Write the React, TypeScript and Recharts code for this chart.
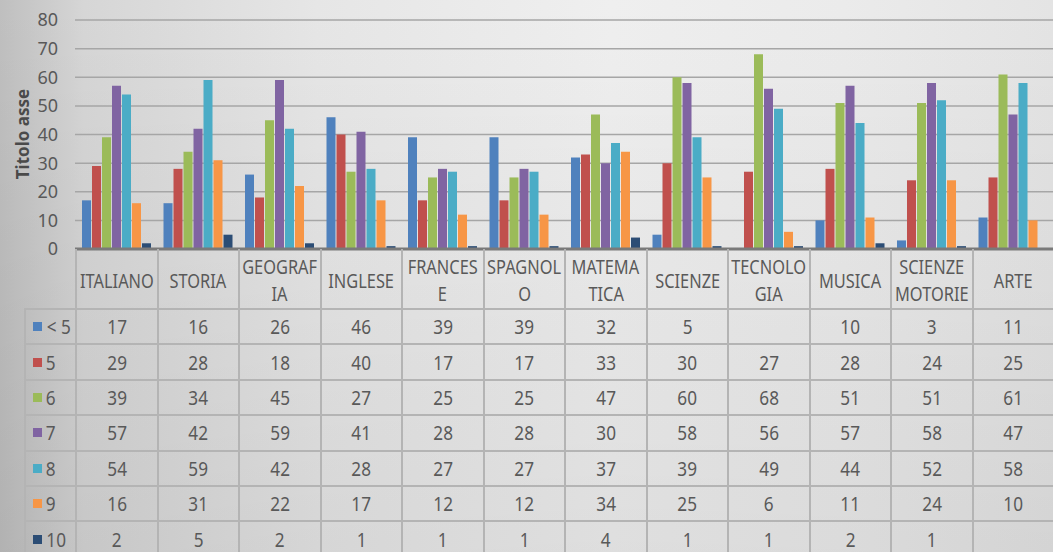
import { BarChart, Bar, XAxis, YAxis, CartesianGrid, ReferenceLine } from 'recharts'

const categories = ['ITALIANO', 'STORIA', 'GEOGRAFIA', 'INGLESE', 'FRANCESE', 'SPAGNOLO', 'MATEMATICA', 'SCIENZE', 'TECNOLOGIA', 'MUSICA', 'SCIENZE MOTORIE', 'ARTE']
// etichette come appaiono nella tabella (a capo come in Excel)
const headerLabels = ['ITALIANO', 'STORIA', 'GEOGRAF\nIA', 'INGLESE', 'FRANCES\nE', 'SPAGNOL\nO', 'MATEMA\nTICA', 'SCIENZE', 'TECNOLO\nGIA', 'MUSICA', 'SCIENZE\nMOTORIE', 'ARTE']

const seriesNames = ['< 5', '5', '6', '7', '8', '9', '10']
const votoLt5 = [17, 16, 26, 46, 39, 39, 32, 5, null, 10, 3, 11]
const voto5 = [29, 28, 18, 40, 17, 17, 33, 30, 27, 28, 24, 25]
const voto6 = [39, 34, 45, 27, 25, 25, 47, 60, 68, 51, 51, 61]
const voto7 = [57, 42, 59, 41, 28, 28, 30, 58, 56, 57, 58, 47]
const voto8 = [54, 59, 42, 28, 27, 27, 37, 39, 49, 44, 52, 58]
const voto9 = [16, 31, 22, 17, 12, 12, 34, 25, 6, 11, 24, 10]
const voto10 = [2, 5, 2, 1, 1, 1, 4, 1, 1, 2, 1, null]
const yTicks = [0, 10, 20, 30, 40, 50, 60, 70, 80]

const seriesValues = [votoLt5, voto5, voto6, voto7, voto8, voto9, voto10]
const COLORS = ['#4F81BD', '#C0504D', '#9BBB59', '#8064A2', '#4BACC6', '#F79646', '#2C4D75']

const W = 1053
const H = 552
const PLOT_LEFT = 75
const CAT_W = (W - PLOT_LEFT) / categories.length
const LEG_LEFT = 24
const HEAD_TOP = 249
const HEAD_H = 61
const ROW_H = 35.4
const LINE = '2px solid #b4b4b4'
const TEXT = '#595959'
const FONT = "'Noto Sans', sans-serif"

const data = categories.map((c, i) => {
  const row: Record<string, string | number | null> = { cat: c }
  seriesValues.forEach((s, k) => { row['s' + k] = s[i] })
  return row
})

// testo un po' stretto, come Calibri
const narrow = (t: string, sx = 0.84) => (
  <span style={{ display: 'inline-block', transform: `scaleX(${sx})`, whiteSpace: 'pre' }}>{t}</span>
)

export default function App() {
  return (
    <div
      style={{
        position: 'absolute', left: 0, top: 0, width: W, height: H, overflow: 'hidden',
        background:
          'linear-gradient(180deg, rgba(0,0,0,0) 0%, rgba(0,0,0,0.07) 100%), ' +
          'linear-gradient(90deg, #bfbfbf 0%, #d6d6d6 8%, #e6e6e6 30%, #efefef 58%, #ebebeb 80%, #e4e4e4 100%)',
        fontFamily: FONT, color: TEXT,
      }}
    >
      <BarChart
        width={W}
        height={262}
        data={data}
        margin={{ top: 20, right: 0, bottom: 13, left: 0 }}
        barCategoryGap={7}
        barGap={1}
      >
        <CartesianGrid vertical={false} stroke="#a6a6a6" strokeWidth={1.5} />
        <XAxis dataKey="cat" hide />
        <YAxis
          width={PLOT_LEFT}
          domain={[0, 80]}
          ticks={yTicks}
          interval={0}
          axisLine={false}
          tickLine={false}
          tickSize={0}
          tickMargin={17}
          tick={{ fontSize: 18, fill: TEXT, fontFamily: FONT }}
        />
        {seriesValues.map((_, k) => (
          <Bar key={k} dataKey={'s' + k} name={seriesNames[k]} fill={COLORS[k]} isAnimationActive={false} />
        ))}
        <ReferenceLine y={0} stroke="#7a7a7a" strokeWidth={3} />
      </BarChart>

      {/* titolo asse */}
      <div
        style={{
          position: 'absolute', left: 22, top: 134, transform: 'translate(-50%, -50%) rotate(-90deg)',
          fontSize: 17, fontWeight: 'bold', whiteSpace: 'nowrap', color: '#4a4a4a',
        }}
      >
        Titolo asse
      </div>

      {/* tabella dati: intestazioni */}
      {headerLabels.map((lab, i) => (
        <div
          key={'h' + i}
          style={{
            position: 'absolute', left: PLOT_LEFT + i * CAT_W, top: HEAD_TOP, width: CAT_W, height: HEAD_H,
            boxSizing: 'border-box', borderLeft: LINE, borderBottom: LINE,
            display: 'flex', flexDirection: 'column', alignItems: 'center', justifyContent: 'center',
            fontSize: 19.5, lineHeight: '27px', paddingTop: 3,
          }}
        >
          {lab.split('\n').map((t, j) => <div key={j}>{narrow(t)}</div>)}
        </div>
      ))}

      {/* righe */}
      {seriesValues.map((vals, k) => {
        const top = HEAD_TOP + HEAD_H + k * ROW_H
        return (
          <div key={'r' + k}>
            <div
              style={{
                position: 'absolute', left: LEG_LEFT, top: top - (k === 0 ? 2 : 0), width: PLOT_LEFT - LEG_LEFT, height: ROW_H + (k === 0 ? 2 : 0),
                boxSizing: 'border-box', borderLeft: LINE, borderBottom: LINE, borderTop: k === 0 ? LINE : 'none',
                display: 'flex', alignItems: 'center', paddingLeft: 7, fontSize: 19.5,
              }}
            >
              <span style={{ display: 'inline-block', width: 9, height: 9, background: COLORS[k], marginRight: 3 }} />
              {narrow(seriesNames[k], 0.88)}
            </div>
            {vals.map((v, i) => (
              <div
                key={i}
                style={{
                  position: 'absolute', left: PLOT_LEFT + i * CAT_W, top, width: CAT_W, height: ROW_H,
                  boxSizing: 'border-box', borderLeft: LINE, borderBottom: LINE,
                  display: 'flex', alignItems: 'center', justifyContent: 'center', fontSize: 19.5,
                }}
              >
                {v == null ? '' : narrow(String(v), 0.88)}
              </div>
            ))}
          </div>
        )
      })}
    </div>
  )
}
